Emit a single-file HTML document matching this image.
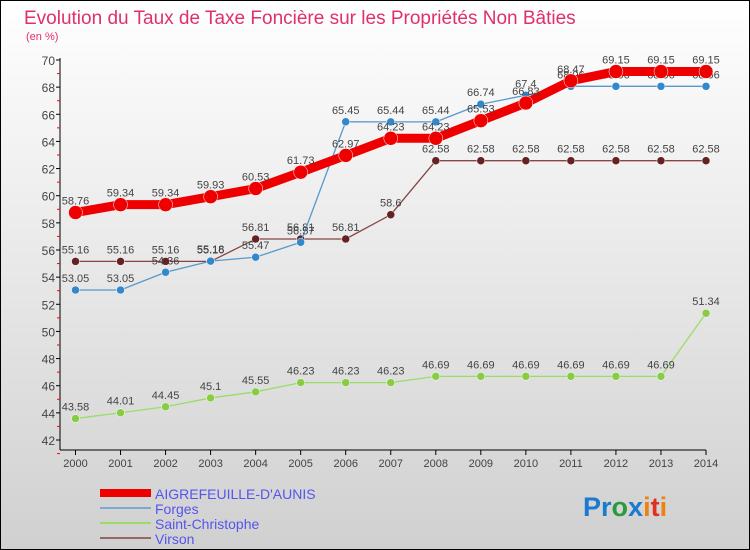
<!DOCTYPE html>
<html><head><meta charset="utf-8"><style>
body{margin:0;width:750px;height:550px;overflow:hidden;font-family:"Liberation Sans",sans-serif}
svg{display:block}
</style></head><body>
<svg id="c" width="750" height="550" xmlns="http://www.w3.org/2000/svg">
<defs><linearGradient id="bg" x1="0" y1="0" x2="0" y2="1"><stop offset="0" stop-color="#ffffff"/><stop offset="1" stop-color="#d0d0d0"/></linearGradient></defs>
<rect x="0" y="0" width="750" height="550" fill="url(#bg)"/>
<rect x="0.5" y="0.5" width="749" height="549" fill="none" stroke="#000"/>
<text x="24" y="24" font-size="19" fill="#e0306a">Evolution du Taux de Taxe Foncière sur les Propriétés Non Bâties</text>
<text x="26" y="40" font-size="11" fill="#e0306a">(en %)</text>
<g id="axes"></g>
<g id="series"></g>
<g id="legend"></g>
<text x="583" y="516" font-size="27" font-weight="bold"><tspan fill="#1a7ad0">Pr</tspan><tspan fill="#2a9a40">o</tspan><tspan fill="#1a7ad0">x</tspan><tspan fill="#f08010">i</tspan><tspan fill="#e03020">t</tspan><tspan fill="#f08010">i</tspan></text>
</svg>
<script>
const years=[2000,2001,2002,2003,2004,2005,2006,2007,2008,2009,2010,2011,2012,2013,2014];
const yTicks=[42,44,46,48,50,52,54,56,58,60,62,64,66,68,70];
const aigre=[58.76,59.34,59.34,59.93,60.53,61.73,62.97,64.23,64.23,65.53,66.83,68.47,69.15,69.15,69.15];
const forges=[53.05,53.05,54.36,55.18,55.47,56.57,65.45,65.44,65.44,66.74,67.4,68.06,68.06,68.06,68.06];
const stchris=[43.58,44.01,44.45,45.1,45.55,46.23,46.23,46.23,46.69,46.69,46.69,46.69,46.69,46.69,51.34];
const virson=[55.16,55.16,55.16,55.16,56.81,56.81,56.81,58.6,62.58,62.58,62.58,62.58,62.58,62.58,62.58];
const NS="http://www.w3.org/2000/svg";
function X(i){return 75.5+i*(706-75.5)/(years.length-1);}
function Y(v){return 60+(70-v)*(380/28);}
function mk(t,p,a){const e=document.createElementNS(NS,t);for(const k in a)e.setAttribute(k,a[k]);p.appendChild(e);return e;}
const ax=document.getElementById('axes');
let l=mk('line',ax,{x1:60,y1:58,x2:60,y2:450,stroke:'#000'});


l=mk('line',ax,{x1:60,y1:450,x2:706,y2:450,stroke:'#000'});


yTicks.forEach(v=>{
 const y=Y(v);
 mk('line',ax,{x1:56,y1:y,x2:60,y2:y,stroke:'#000'});
 mk('line',ax,{x1:57,y1:y+Y(69)-Y(70),x2:60,y2:y+Y(69)-Y(70),stroke:'#f00'});
 const t=mk('text',ax,{x:55,y:y+5,'font-size':12,'text-anchor':'end',fill:'#444'});
 t.textContent=v;
 
 
});
years.forEach((yr,i)=>{
 const x=X(i);
 mk('line',ax,{x1:x,y1:450,x2:x,y2:455,stroke:'#000'});
 const t=mk('text',ax,{x:x,y:467,'font-size':11,'text-anchor':'middle',fill:'#444'});
 t.textContent=yr;
 
 
});
const sg=document.getElementById('series');
function series(vals,color,w,r,name,dotColor){
 const g=mk('g',sg,{});
 
 
 const pts=vals.map((v,i)=>X(i)+','+Y(v)).join(' ');
 mk('polyline',g,{points:pts,fill:'none',stroke:color,'stroke-width':w,'stroke-linejoin':'round'});
 vals.forEach((v,i)=>{
  const c=mk('circle',g,{cx:X(i),cy:Y(v),r:r,fill:dotColor,stroke:'#fff','stroke-width':0.5});
  
  
  const t=mk('text',g,{x:X(i),y:Y(v)-8,'font-size':11,'text-anchor':'middle',fill:'#444'});
  t.textContent=v;
  
  
 });
}
series(stchris,'#99dd66',1.3,4,'saint-christophe-line','#88cc44');
series(virson,'#884444',1.3,4,'virson-line','#662222');
series(forges,'#5599cc',1.3,4,'forges-line','#3388cc');
series(aigre,'#ee0000',9,7,'aigrefeuille-line','#ee0000');
const lg=document.getElementById('legend');
const items=[['AIGREFEUILLE-D\'AUNIS','#ee0000',8],['Forges','#7aaad0',2],['Saint-Christophe','#99dd66',2],['Virson','#996666',2]];
items.forEach((it,i)=>{
 const y=493+i*15;
 const g=mk('g',lg,{});
 
 
 mk('line',g,{x1:100,y1:y,x2:151,y2:y,stroke:it[1],'stroke-width':it[2]});
 const t=mk('text',g,{x:155,y:y+6,'font-size':14,fill:'#5555ee'});
 t.textContent=it[0];
});
</script>
</body></html>
